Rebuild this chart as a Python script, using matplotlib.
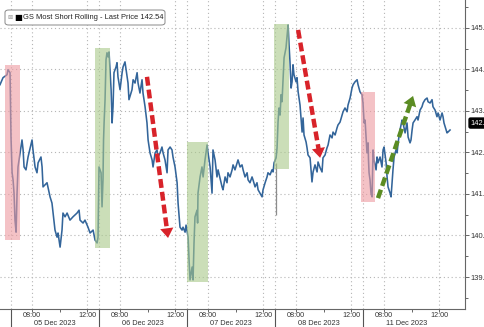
import matplotlib
matplotlib.use("Agg")
import matplotlib.pyplot as plt
import matplotlib.transforms as mtransforms
from matplotlib.patches import FancyBboxPatch
from matplotlib.ticker import FixedLocator, MultipleLocator, FormatStrFormatter

plt.rcParams["font.family"] = ["Liberation Sans", "DejaVu Sans"]

# Bloomberg style intraday axis: every day shows the same session window, nights squeezed out
OPEN_HOUR = 6.47
SESSION_HOURS = 6.4

days = ["04 Dec 2023", "05 Dec 2023", "06 Dec 2023", "07 Dec 2023", "08 Dec 2023", "11 Dec 2023"]

# GS Most Short Rolling - intraday prints (hour of day, price)
hours_04 = [12.07, 12.29, 12.58, 12.65, 12.80]
price_04 = [143.63, 143.80, 143.87, 143.99, 143.92]

hours_05 = [6.47, 6.55, 6.62, 6.69, 6.76, 6.84, 6.91, 6.98, 7.13, 7.27, 7.35, 7.42, 7.56, 7.71,
            8.00, 8.07, 8.22, 8.36, 8.44, 8.65, 8.73, 8.80, 9.09, 9.31, 9.45, 9.53, 9.67, 9.82,
            9.89, 10.04, 10.18, 10.25, 10.40, 10.55, 10.76, 10.98, 11.27, 11.42, 11.49, 11.71,
            11.85, 12.07, 12.22, 12.44, 12.58, 12.73, 12.80]
price_05 = [142.37, 141.51, 141.34, 141.02, 140.37, 140.08, 141.02, 141.65, 141.99, 142.30, 142.06,
            141.65, 141.58, 141.89, 142.30, 142.06, 141.65, 141.51, 141.75, 141.89, 141.65, 141.17,
            141.27, 140.93, 140.78, 140.54, 140.13, 139.96, 140.06, 139.72, 140.13, 140.54, 140.45,
            140.54, 140.37, 140.45, 140.54, 140.61, 140.37, 140.30, 140.37, 140.20, 140.06, 140.13,
            139.89, 139.82, 139.96]

hours_06 = [6.47, 6.62, 6.69, 6.76, 6.80, 6.84, 6.91, 6.98, 7.05, 7.13, 7.20, 7.35, 7.42, 7.49,
            7.56, 7.71, 7.78, 7.85, 8.00, 8.15, 8.22, 8.36, 8.44, 8.58, 8.65, 8.87, 8.95, 9.09,
            9.24, 9.31, 9.45, 9.60, 9.67, 9.82, 9.96, 10.04, 10.18, 10.33, 10.40, 10.55, 10.69,
            10.76, 10.91, 11.05, 11.13, 11.27, 11.42, 11.49, 11.64, 11.78, 11.85, 12.00, 12.15,
            12.22, 12.36, 12.51, 12.58, 12.73, 12.80]
price_06 = [141.65, 141.51, 140.69, 141.34, 142.30, 142.71, 143.27, 144.23, 144.40, 144.30, 144.42,
            143.51, 142.71, 143.10, 143.92, 144.06, 144.16, 143.82, 143.51, 143.92, 144.06, 144.18,
            143.99, 143.67, 143.27, 143.51, 143.75, 143.67, 143.92, 143.67, 143.43, 143.75, 143.43,
            143.10, 142.71, 142.30, 141.99, 141.82, 141.65, 141.99, 142.06, 141.89, 141.99, 142.13,
            141.99, 141.82, 141.51, 142.06, 142.13, 142.06, 141.89, 141.65, 141.27, 140.78, 140.20,
            140.13, 140.20, 140.08, 140.25]

hours_07 = [6.55, 6.62, 6.69, 6.84, 6.91, 6.98, 7.05, 7.20, 7.24, 7.27, 7.42, 7.56, 7.64, 7.78,
            7.93, 8.00, 8.15, 8.29, 8.36, 8.51, 8.65, 8.73, 9.02, 9.09, 9.24, 9.38, 9.45, 9.60,
            9.75, 9.82, 9.96, 10.11, 10.18, 10.33, 10.47, 10.55, 10.69, 10.84, 10.91, 11.05,
            11.20, 11.27, 11.42, 11.56, 11.64, 11.78, 11.93, 12.00, 12.15, 12.29, 12.36, 12.51,
            12.65, 12.73, 12.80]
price_07 = [139.96, 139.41, 138.93, 139.24, 138.93, 139.82, 140.45, 140.61, 140.30, 141.02, 141.41,
            141.65, 141.41, 141.82, 142.18, 141.99, 141.65, 141.02, 142.06, 141.82, 141.41, 141.58,
            141.17, 141.10, 141.41, 141.27, 141.51, 141.41, 141.58, 141.70, 141.58, 141.75, 141.82,
            141.65, 141.70, 141.58, 141.41, 141.51, 141.34, 141.27, 141.41, 141.34, 141.17, 141.27,
            141.10, 141.02, 140.93, 141.10, 141.27, 141.41, 141.51, 141.46, 141.58, 141.53, 141.75]

hours_08 = [6.55, 6.62, 6.69, 6.76, 6.84, 6.91, 6.98, 7.05, 7.13, 7.27, 7.35, 7.42, 7.45, 7.49,
            7.56, 7.64, 7.71, 7.78, 7.85, 8.00, 8.07, 8.15, 8.29, 8.36, 8.44, 8.51, 8.58, 8.73,
            8.80, 8.87, 9.02, 9.16, 9.24, 9.38, 9.53, 9.60, 9.75, 9.89, 9.96, 10.11, 10.25, 10.33,
            10.47, 10.62, 10.69, 10.84, 10.98, 11.05, 11.20, 11.35, 11.42, 11.56, 11.71, 11.78,
            11.93, 12.07, 12.15, 12.29, 12.44, 12.51, 12.65, 12.80]
price_08 = [141.87, 142.11, 142.73, 143.07, 142.90, 143.39, 143.22, 143.70, 144.28, 144.52, 144.83,
            145.07, 144.90, 144.59, 144.18, 143.55, 143.70, 144.11, 143.87, 143.70, 143.80, 143.46,
            143.14, 142.83, 142.49, 142.83, 142.42, 142.25, 142.11, 141.94, 141.87, 141.29, 141.53,
            141.70, 141.53, 141.77, 141.63, 141.53, 141.87, 141.94, 142.11, 142.18, 142.42, 142.35,
            142.49, 142.42, 142.59, 142.66, 142.73, 142.90, 142.98, 143.07, 142.98, 143.14, 143.31,
            143.55, 143.63, 143.70, 143.75, 143.63, 143.46, 143.39]

hours_11 = [6.47, 6.55, 6.62, 6.69, 6.76, 6.84, 6.87, 6.91, 6.98, 7.05, 7.13, 7.16, 7.20, 7.27,
            7.42, 7.49, 7.56, 7.71, 7.85, 7.93, 8.00, 8.15, 8.22, 8.29, 8.44, 8.51, 8.58, 8.65,
            8.73, 8.87, 8.95, 9.02, 9.16, 9.31, 9.38, 9.53, 9.67, 9.75, 9.89, 9.96, 10.04, 10.11,
            10.25, 10.40, 10.47, 10.62, 10.76, 10.84, 10.98, 11.13, 11.20, 11.35, 11.49, 11.56,
            11.71, 11.85, 11.93, 12.07, 12.22, 12.29, 12.36, 12.51, 12.58, 12.65, 12.80]
price_11 = [143.19, 142.71, 142.78, 142.37, 141.99, 142.23, 141.82, 141.51, 141.34, 141.02, 140.93,
            141.41, 142.06, 141.82, 141.58, 141.89, 141.75, 141.89, 141.65, 142.06, 142.13, 141.75,
            141.41, 141.17, 141.02, 140.93, 141.27, 141.58, 141.89, 142.06, 141.99, 142.23, 142.54,
            142.78, 142.71, 142.47, 142.71, 142.37, 142.23, 142.30, 142.54, 142.71, 142.78, 142.86,
            142.78, 143.02, 143.10, 143.19, 143.27, 143.31, 143.22, 143.19, 143.27, 143.10, 143.02,
            142.86, 142.95, 142.78, 142.95, 142.86, 142.71, 142.54, 142.47, 142.49, 142.54]

series = [("04 Dec 2023", hours_04, price_04), ("05 Dec 2023", hours_05, price_05),
          ("06 Dec 2023", hours_06, price_06), ("07 Dec 2023", hours_07, price_07),
          ("08 Dec 2023", hours_08, price_08), ("11 Dec 2023", hours_11, price_11)]

last_price = 142.54
# opening print on 08 Dec that shows as a grey spike
spike_day, spike_hour, spike_low, spike_high = "08 Dec 2023", 6.47, 140.49, 141.75

# highlighted boxes: (start day, start hour, end day, end hour, low, high, colour)
boxes = [("04 Dec 2023", 12.44, "05 Dec 2023", 7.13, 139.89, 144.11, "#ee9aa0"),
         ("05 Dec 2023", 12.58, "06 Dec 2023", 7.27, 139.70, 144.52, "#a9c98a"),
         ("07 Dec 2023", 6.47, "07 Dec 2023", 8.00, 138.88, 142.25, "#a9c98a"),
         ("07 Dec 2023", 12.80, "08 Dec 2023", 7.49, 141.60, 145.10, "#a9c98a"),
         ("08 Dec 2023", 12.73, "11 Dec 2023", 7.35, 140.81, 143.46, "#ee9aa0")]

# dashed trend arrows: (day, hour, price) start -> end
arrows = [(("06 Dec 2023", 9.96, 143.82), ("06 Dec 2023", 11.49, 139.94), "#d8232a"),
          (("08 Dec 2023", 8.15, 144.95), ("08 Dec 2023", 9.75, 141.87), "#d8232a"),
          (("11 Dec 2023", 7.56, 140.90), ("11 Dec 2023", 10.11, 143.36), "#5b8c23")]


def pos(day, hour):
    return days.index(day) - 1 + (hour - OPEN_HOUR) / SESSION_HOURS


x_all, p_all = [], []
for day, hrs, prices in series:
    for h, p in zip(hrs, prices):
        x_all.append(pos(day, h))
        p_all.append(p)

fig = plt.figure(figsize=(4.85, 3.27), dpi=100)
ax = fig.add_axes([0, 18 / 327, 465 / 485, 309 / 327])

ax.plot(x_all, p_all, color="#33659a", lw=1.15, zorder=2)
ax.vlines(pos(spike_day, spike_hour) + 0.01, spike_low, spike_high, color="#8c8c8c", lw=0.9, zorder=2)

for d0, h0, d1, h1, lo, hi, col in boxes:
    ax.fill_between([pos(d0, h0), pos(d1, h1)], [lo, lo], [hi, hi], color=col, alpha=0.6, lw=0, zorder=3)

for (d0, h0, p0), (d1, h1, p1), col in arrows:
    x0, x1 = pos(d0, h0), pos(d1, h1)
    ax.plot([x0, x0 + 0.93 * (x1 - x0)], [p0, p0 + 0.93 * (p1 - p0)], color=col, lw=3.2,
            dashes=(2.0, 0.9), solid_capstyle="butt", zorder=4)
    ax.annotate("", xy=(x1, p1), xytext=(x0 + 0.8 * (x1 - x0), p0 + 0.8 * (p1 - p0)),
                arrowprops=dict(arrowstyle="-|>,head_length=0.5,head_width=0.34", color=col,
                                lw=0, mutation_scale=14, shrinkA=0, shrinkB=0), zorder=5)

ax.set_xlim(-0.125, 5.159)
ax.set_ylim(138.23, 145.67)

# x axis: 08:00 / 12:00 labels, 10:00 minor ticks, day separators
hour_ticks, hour_labels = [], []
for d in days[1:]:
    for h in (8, 12):
        hour_ticks.append(pos(d, h))
        hour_labels.append("%02d:00" % h)
ax.xaxis.set_major_locator(FixedLocator(hour_ticks))
ax.set_xticklabels(hour_labels)
ax.xaxis.set_minor_locator(FixedLocator([pos(d, 10) for d in days[1:]]))
ax.tick_params(axis="x", which="major", length=2, width=0.7, color="#666666", pad=0.5,
               labelsize=5.2, labelcolor="#333333")
ax.tick_params(axis="x", which="minor", length=2, width=0.7, color="#666666")

trans = mtransforms.blended_transform_factory(ax.transData, ax.transAxes)
for i, d in enumerate(days[1:]):
    ax.plot([i, i], [0, -0.06], transform=trans, clip_on=False, color="#555555", lw=0.8)
    ax.axvline(i, color="#b5b5b5", lw=0.8, ls=(0, (1, 2.5)), zorder=1)
    ax.text(i + 0.5, -0.048, d, transform=trans, ha="center", va="center", fontsize=5.3,
            color="#333333")

# y axis on the right
ax.yaxis.tick_right()
ax.yaxis.set_major_locator(MultipleLocator(1))
ax.yaxis.set_minor_locator(MultipleLocator(0.5))
ax.yaxis.set_major_formatter(FormatStrFormatter("%.1f"))
ax.tick_params(axis="y", which="major", length=3, width=0.7, color="#666666", pad=1,
               labelsize=5.4, labelcolor="#333333")
ax.tick_params(axis="y", which="minor", length=2, width=0.7, color="#666666")

ax.grid(True, which="major", color="#b5b5b5", lw=0.8, ls=(0, (1, 2.5)), zorder=1)
ax.set_axisbelow(True)
for side in ("left", "top"):
    ax.spines[side].set_visible(False)
for side in ("right", "bottom"):
    ax.spines[side].set_color("#666666")
    ax.spines[side].set_linewidth(0.8)

ytrans = mtransforms.blended_transform_factory(ax.transAxes, ax.transData)
ax.annotate("%.2f" % last_price, xy=(1.0, last_price), xycoords=ytrans, xytext=(4, 5),
            textcoords="offset points", ha="left", va="center", fontsize=5.4, color="white",
            bbox=dict(boxstyle="round,pad=0.2", fc="black", ec="black"), annotation_clip=False)

# legend box
ax.add_patch(FancyBboxPatch((5 / 465, 1 - 25 / 309), 160 / 465, 15 / 309, transform=ax.transAxes,
                            boxstyle="round,pad=0,rounding_size=0.008", fc="white", ec="#888888",
                            lw=0.7, zorder=6))
ax.text(0.049, 1 - 17.5 / 309, "GS Most Short Rolling - Last Price %.2f" % last_price,
        transform=ax.transAxes, ha="left", va="center", fontsize=5.4, color="#222222", zorder=7)
ax.text(0.016, 1 - 17.5 / 309, "\u22a0", transform=ax.transAxes, ha="left", va="center", fontsize=4.5,
        color="#999999", family="DejaVu Sans", zorder=7)
ax.text(0.031, 1 - 17.5 / 309, "\u25a0", transform=ax.transAxes, ha="left", va="center", fontsize=6,
        color="black", family="DejaVu Sans", zorder=7)

fig.savefig("out.png", dpi=100, facecolor="white")
